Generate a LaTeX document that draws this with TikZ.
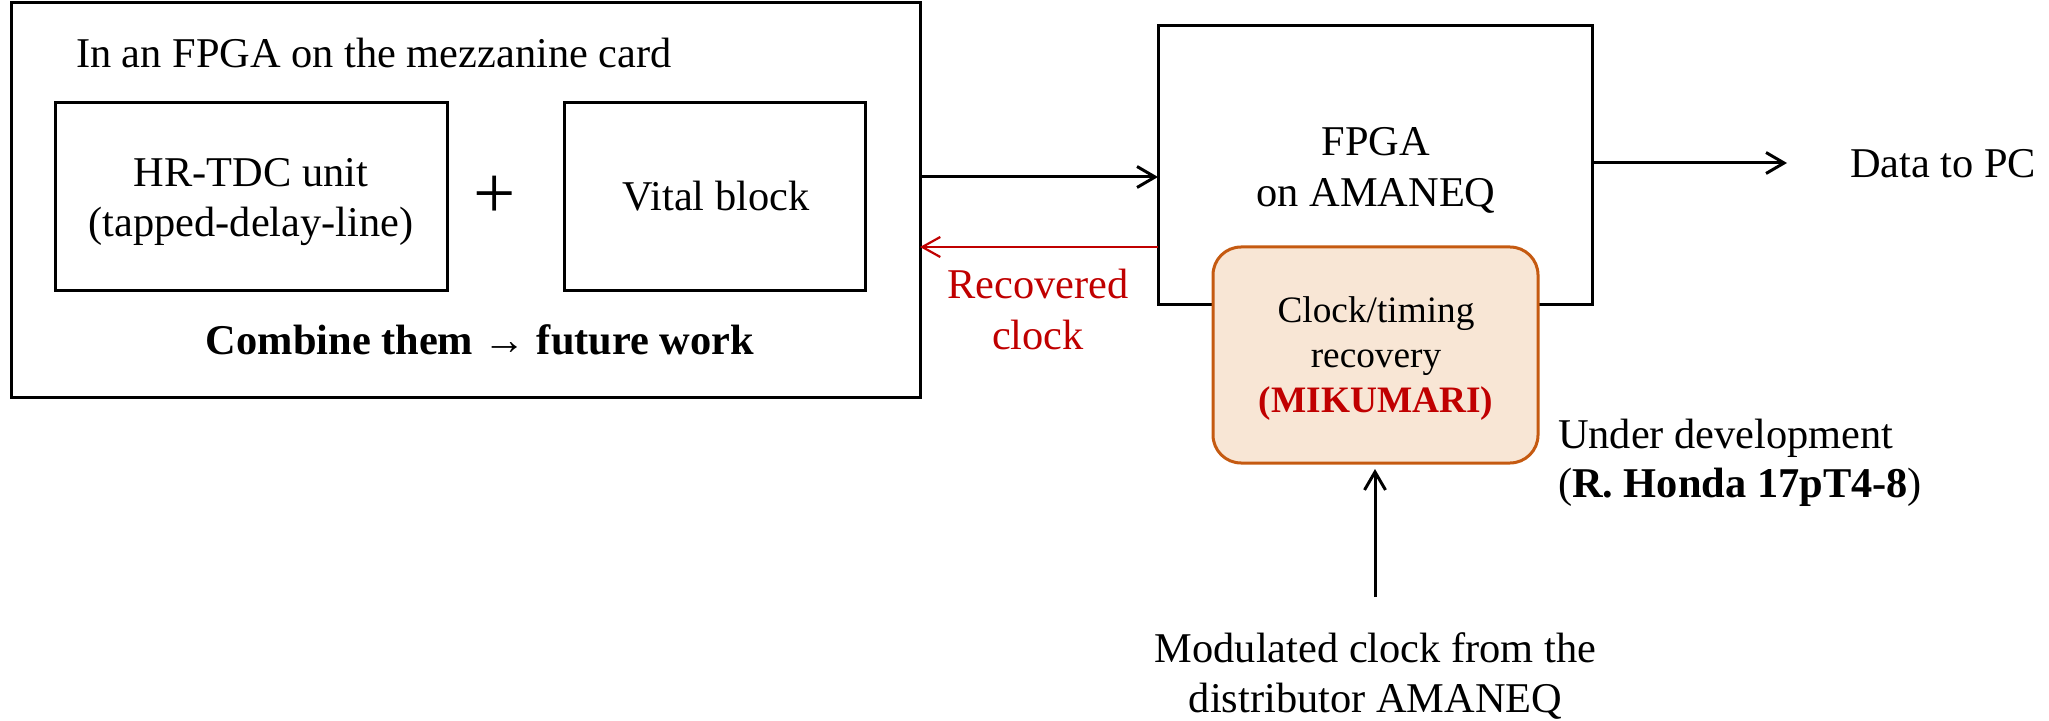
\documentclass[tikz,border=0pt]{standalone}
\usepackage{fontspec}
\setmainfont{Liberation Serif}
\usetikzlibrary{arrows.meta}
\definecolor{myred}{HTML}{C00000}
\definecolor{mikfill}{HTML}{F8E6D5}
\definecolor{mikdraw}{HTML}{C55A11}
\begin{document}
\begin{tikzpicture}[x=0.5pt,y=-0.5pt,
  every node/.style={inner sep=0pt, outer sep=0pt},
  fnt/.style={font=\fontsize{21.2}{25.25}\selectfont},
  txt/.style={fnt, align=center},
  blk/.style={draw, line width=1.5pt, rectangle},
  arr/.style={line width=1.5pt, -{Straight Barb[length=9pt,width=10.5pt,line width=1.5pt]}},
  redarr/.style={draw=myred, line width=1.1pt, -{Straight Barb[length=9pt,width=10pt,line width=1.1pt]}}]
\useasboundingbox (0,0) rectangle (2049,721);

% mezzanine FPGA
\node[blk, minimum width=454.5pt, minimum height=197pt] (outer) at (465.5,200) {};
\node[fnt, anchor=base west] (title) at (76,68) {In an FPGA on the mezzanine card};
\node[blk, minimum width=196pt, minimum height=94pt] (hrtdc) at (251,197) {};
\node[txt] (hrtxt) at (251,202) {HR-TDC unit\\(tapped-delay-line)};
\node[font=\fontsize{37.5}{40}\selectfont] (plus) at (495,197) {+};
\node[blk, minimum width=150.5pt, minimum height=94pt] (vital) at (714.5,197) {};
\node[fnt, anchor=base] (vitaltxt) at (716,211) {Vital block};
\node[fnt, font=\fontsize{21.2}{25.25}\selectfont\bfseries, anchor=base] (combine) at (480,355) {Combine them → future work};

% AMANEQ FPGA
\node[blk, minimum width=217pt, minimum height=139.5pt] (fpga) at (1375,165.5) {};
\node[txt] (fpgatxt) at (1376,170.5) {FPGA\\on AMANEQ};
\node[draw=mikdraw, fill=mikfill, line width=1.5pt, rounded corners=14pt,
      minimum width=162.5pt, minimum height=108pt] (mik) at (1375.5,355) {};
\node[align=center, font=\fontsize{18.65}{22.5}\selectfont] (miktxt) at (1376,359)
  {Clock/timing\\recovery\\\textcolor{myred}{\bfseries (MIKUMARI)}};

% labels
\node[txt, text=myred] (rec) at (1038,309.3) {Recovered\\clock};
\node[fnt, anchor=base west] (data) at (1850,178) {Data to PC};
\node[fnt, anchor=base west] (under) at (1558,448) {Under development};
\node[fnt, anchor=base west] (honda) at (1558,497) {(\textbf{R. Honda 17pT4-8})};
\node[txt] (mod) at (1375.5,675.8) {Modulated clock from the\\distributor AMANEQ};

% connectors
\draw[arr] (outer.east |- 0,177) -- (fpga.west |- 0,177);
\draw[redarr] (fpga.west |- 0,247) -- (outer.east |- 0,247);
\draw[arr, shorten >=31.5pt] (fpga.east |- 0,163) -- (data.west |- 0,163);
\draw[arr, shorten <=17.5pt, shorten >=3pt] (mod.north -| 1375,0) -- (mik.south -| 1375,0);
\end{tikzpicture}
\end{document}
